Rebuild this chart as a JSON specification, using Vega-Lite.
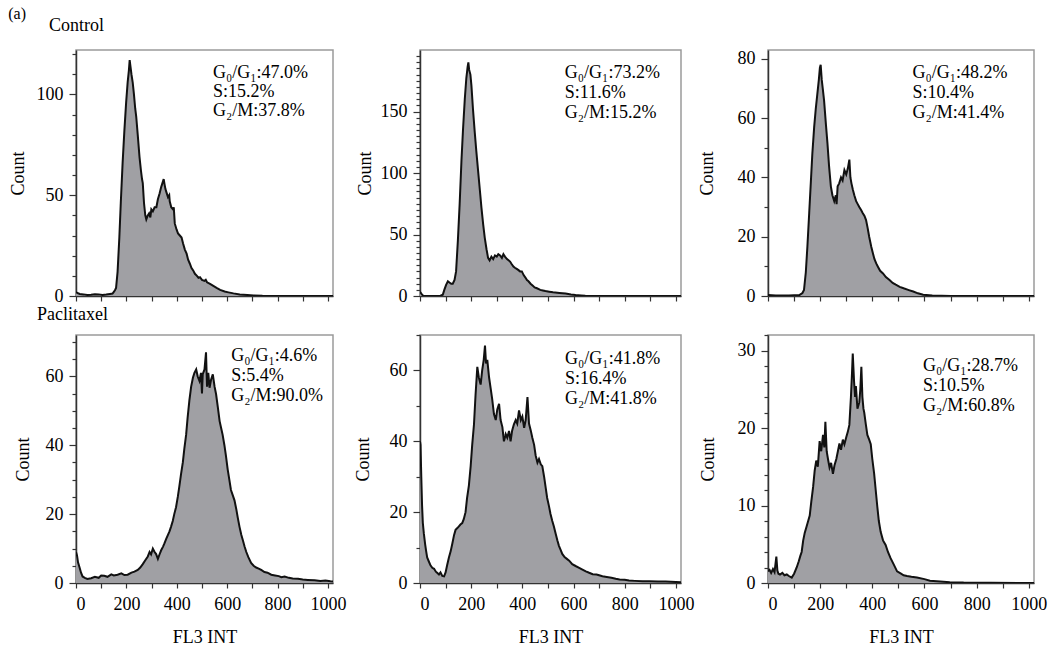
{
  "$schema": "https://vega.github.io/schema/vega-lite/v6.json",
  "padding": {"left": 8, "top": 6, "right": 5, "bottom": 5},
  "title": {"text": "(a)", "anchor": "start", "fontSize": 16, "offset": -6, "dx": 0},
  "columns": 3,
  "spacing": {"row": 39, "column": 87},
  "bounds": "flush",
  "align": "each",
  "config": {
    "font": "Liberation Serif",
    "view": {"stroke": "#9a9a9a", "strokeWidth": 1.5},
    "axis": {"labelFont": "Liberation Serif", "titleFont": "Liberation Serif", "labelFontSize": 18, "titleFontSize": 18, "titleFontWeight": "normal", "labelColor": "#000", "titleColor": "#000", "domainColor": "#333", "domainWidth": 1.5, "tickColor": "#333", "tickWidth": 1.2, "grid": false, "labelOverlap": false, "format": "d"},
    "axisX": {"tickSize": 5, "labelPadding": 7, "titlePadding": 15},
    "axisY": {"labelPadding": 6},
    "title": {"font": "Liberation Serif", "fontSize": 18, "fontWeight": "normal", "anchor": "start", "color": "#000"},
    "text": {"font": "Liberation Serif"},
    "area": {"opacity": 1, "fillOpacity": 1}
  },
  "datasets": {
    "p1": [{"x":0,"y":2},{"x":5,"y":1.5},{"x":15,"y":1},{"x":30,"y":0.8},{"x":45,"y":0.5},{"x":60,"y":0.6},{"x":75,"y":0.9},{"x":90,"y":0.8},{"x":105,"y":0.5},{"x":120,"y":0.7},{"x":135,"y":1},{"x":145,"y":1.2},{"x":150,"y":2},{"x":155,"y":3},{"x":159,"y":4},{"x":165,"y":12},{"x":172,"y":29},{"x":178,"y":47},{"x":185,"y":66},{"x":192,"y":82},{"x":199,"y":96},{"x":205,"y":106},{"x":210,"y":112},{"x":213,"y":117},{"x":216,"y":114},{"x":220,"y":110},{"x":225,"y":106},{"x":230,"y":100},{"x":235,"y":93},{"x":239,"y":89},{"x":245,"y":80},{"x":252,"y":69},{"x":258,"y":62},{"x":262,"y":58},{"x":265,"y":56},{"x":270,"y":46},{"x":275,"y":40},{"x":279,"y":38},{"x":285,"y":40},{"x":290,"y":41},{"x":295,"y":39},{"x":299,"y":43},{"x":305,"y":42},{"x":312,"y":44},{"x":319,"y":44},{"x":325,"y":48},{"x":332,"y":51},{"x":338,"y":54},{"x":343,"y":56},{"x":348,"y":58},{"x":352,"y":55},{"x":355,"y":53},{"x":360,"y":51},{"x":365,"y":49},{"x":370,"y":50},{"x":372,"y":47},{"x":378,"y":44},{"x":385,"y":43},{"x":388,"y":44},{"x":392,"y":36},{"x":399,"y":33},{"x":405,"y":31},{"x":412,"y":30},{"x":419,"y":29},{"x":425,"y":26},{"x":432,"y":23},{"x":439,"y":21},{"x":445,"y":18},{"x":452,"y":16},{"x":458,"y":14},{"x":465,"y":12.7},{"x":472,"y":11},{"x":480,"y":10},{"x":486,"y":9},{"x":492,"y":9.3},{"x":500,"y":8},{"x":510,"y":7.5},{"x":515,"y":8},{"x":520,"y":6.8},{"x":532,"y":6},{"x":545,"y":5},{"x":558,"y":4},{"x":572,"y":3},{"x":590,"y":2.2},{"x":605,"y":1.8},{"x":625,"y":1.3},{"x":650,"y":0.8},{"x":680,"y":0.5},{"x":705,"y":0.3},{"x":740,"y":0.1},{"x":800,"y":0},{"x":1024,"y":0}],
    "p2": [{"x":0,"y":3.5},{"x":5,"y":2},{"x":12,"y":0.3},{"x":40,"y":0},{"x":80,"y":0.2},{"x":89,"y":1},{"x":95,"y":5},{"x":102,"y":9},{"x":109,"y":12},{"x":115,"y":11},{"x":122,"y":10},{"x":128,"y":10},{"x":135,"y":13},{"x":141,"y":20},{"x":148,"y":45},{"x":155,"y":75},{"x":162,"y":110},{"x":168,"y":135},{"x":175,"y":160},{"x":181,"y":177},{"x":186,"y":186},{"x":189,"y":190},{"x":192,"y":184},{"x":197,"y":180},{"x":201,"y":171},{"x":207,"y":152},{"x":214,"y":133},{"x":220,"y":118},{"x":227,"y":102},{"x":234,"y":86},{"x":240,"y":72},{"x":247,"y":58},{"x":253,"y":47.5},{"x":260,"y":38},{"x":266,"y":31},{"x":272,"y":29},{"x":279,"y":32},{"x":286,"y":30},{"x":293,"y":33},{"x":300,"y":32},{"x":306,"y":34},{"x":313,"y":33},{"x":320,"y":31},{"x":326,"y":34},{"x":332,"y":32},{"x":340,"y":30},{"x":346,"y":29},{"x":352,"y":28},{"x":358,"y":26},{"x":365,"y":24},{"x":371,"y":23},{"x":378,"y":22},{"x":385,"y":21},{"x":391,"y":20},{"x":398,"y":20},{"x":405,"y":17},{"x":412,"y":15},{"x":418,"y":13},{"x":424,"y":12},{"x":432,"y":10},{"x":440,"y":8.5},{"x":448,"y":7},{"x":457,"y":6.3},{"x":470,"y":5},{"x":480,"y":4.5},{"x":490,"y":4},{"x":505,"y":3.5},{"x":520,"y":3},{"x":545,"y":2.5},{"x":569,"y":2},{"x":590,"y":1.3},{"x":608,"y":0.8},{"x":630,"y":0.5},{"x":646,"y":0.3},{"x":680,"y":0.1},{"x":720,"y":0},{"x":1024,"y":0}],
    "p3": [{"x":0,"y":0.3},{"x":30,"y":0.2},{"x":80,"y":0.2},{"x":120,"y":0.3},{"x":132,"y":1},{"x":138,"y":2},{"x":145,"y":8},{"x":151,"y":16.6},{"x":158,"y":28},{"x":164,"y":38},{"x":170,"y":48},{"x":177,"y":57},{"x":183,"y":63},{"x":189,"y":68},{"x":195,"y":73},{"x":199,"y":77},{"x":202,"y":78},{"x":206,"y":73},{"x":210,"y":70},{"x":215,"y":66},{"x":222,"y":58},{"x":228,"y":51.5},{"x":234,"y":44},{"x":241,"y":37},{"x":247,"y":34},{"x":254,"y":32},{"x":260,"y":34},{"x":263,"y":31},{"x":267,"y":37},{"x":273,"y":38},{"x":280,"y":40},{"x":286,"y":39},{"x":293,"y":42.5},{"x":300,"y":41},{"x":306,"y":43},{"x":312,"y":46},{"x":316,"y":40},{"x":320,"y":38},{"x":325,"y":36},{"x":331,"y":34},{"x":338,"y":32},{"x":344,"y":31},{"x":350,"y":30},{"x":357,"y":29},{"x":363,"y":28},{"x":370,"y":27},{"x":376,"y":25.6},{"x":382,"y":23},{"x":388,"y":20},{"x":396,"y":16.6},{"x":402,"y":14.5},{"x":408,"y":12.5},{"x":415,"y":11},{"x":422,"y":9.8},{"x":430,"y":8.5},{"x":441,"y":7.6},{"x":452,"y":6.4},{"x":466,"y":5.4},{"x":478,"y":4.4},{"x":490,"y":3.8},{"x":505,"y":3.1},{"x":520,"y":2.6},{"x":540,"y":2},{"x":557,"y":1.5},{"x":575,"y":0.9},{"x":595,"y":0.4},{"x":630,"y":0.2},{"x":700,"y":0},{"x":1024,"y":0}],
    "p4": [{"x":0,"y":9},{"x":4,"y":8},{"x":8,"y":6},{"x":13,"y":4.8},{"x":20,"y":3},{"x":26,"y":1.9},{"x":35,"y":1.5},{"x":45,"y":1.2},{"x":60,"y":1.4},{"x":75,"y":1.8},{"x":90,"y":1.5},{"x":100,"y":2.2},{"x":112,"y":2.1},{"x":125,"y":1.8},{"x":140,"y":2.5},{"x":150,"y":2.2},{"x":165,"y":2.4},{"x":180,"y":2.8},{"x":192,"y":2.3},{"x":205,"y":2.4},{"x":220,"y":3},{"x":232,"y":3.3},{"x":245,"y":3.8},{"x":255,"y":4.5},{"x":265,"y":5.5},{"x":275,"y":6.6},{"x":285,"y":7.7},{"x":292,"y":9},{"x":298,"y":8.3},{"x":305,"y":10},{"x":312,"y":9},{"x":318,"y":8.4},{"x":325,"y":7},{"x":331,"y":8.2},{"x":338,"y":9.5},{"x":345,"y":10.5},{"x":351,"y":11.5},{"x":358,"y":12.8},{"x":365,"y":14},{"x":371,"y":15},{"x":377,"y":16.3},{"x":384,"y":18},{"x":390,"y":20},{"x":397,"y":22},{"x":404,"y":25},{"x":410,"y":28},{"x":417,"y":31.7},{"x":424,"y":35},{"x":430,"y":39},{"x":437,"y":43},{"x":443,"y":48},{"x":450,"y":53},{"x":457,"y":57},{"x":464,"y":59.6},{"x":470,"y":61},{"x":477,"y":62},{"x":483,"y":60},{"x":490,"y":58.7},{"x":496,"y":61},{"x":500,"y":55},{"x":503,"y":60.6},{"x":510,"y":62},{"x":516,"y":67},{"x":520,"y":57},{"x":525,"y":61},{"x":530,"y":56.7},{"x":536,"y":59},{"x":543,"y":60.6},{"x":550,"y":57},{"x":556,"y":54.8},{"x":563,"y":51},{"x":570,"y":47},{"x":576,"y":45},{"x":582,"y":43},{"x":589,"y":40},{"x":595,"y":37},{"x":602,"y":33},{"x":609,"y":29.8},{"x":615,"y":27},{"x":622,"y":25.5},{"x":629,"y":24},{"x":636,"y":21.5},{"x":642,"y":19},{"x":649,"y":16.3},{"x":656,"y":14},{"x":662,"y":12.5},{"x":669,"y":10.6},{"x":676,"y":9},{"x":684,"y":7.5},{"x":695,"y":5.8},{"x":705,"y":5},{"x":715,"y":4.5},{"x":725,"y":4.2},{"x":735,"y":3.8},{"x":748,"y":3.2},{"x":760,"y":3},{"x":775,"y":2.4},{"x":790,"y":2.2},{"x":805,"y":2},{"x":815,"y":1.7},{"x":828,"y":1.9},{"x":845,"y":1.5},{"x":860,"y":1.3},{"x":881,"y":1.2},{"x":900,"y":1},{"x":920,"y":0.9},{"x":947,"y":0.8},{"x":970,"y":0.6},{"x":990,"y":0.7},{"x":1010,"y":0.5},{"x":1024,"y":0.4}],
    "p5": [{"x":0,"y":40},{"x":2,"y":39},{"x":5,"y":30},{"x":8,"y":22},{"x":11,"y":17},{"x":15,"y":14},{"x":20,"y":11},{"x":24,"y":9},{"x":28,"y":7.2},{"x":35,"y":6},{"x":41,"y":5},{"x":48,"y":4.3},{"x":55,"y":4},{"x":62,"y":3.2},{"x":68,"y":2.8},{"x":74,"y":2.4},{"x":80,"y":3},{"x":87,"y":2},{"x":94,"y":1.9},{"x":100,"y":3},{"x":106,"y":5},{"x":113,"y":7.2},{"x":120,"y":9},{"x":126,"y":11},{"x":133,"y":13.5},{"x":139,"y":15},{"x":146,"y":15.5},{"x":152,"y":16},{"x":158,"y":16.5},{"x":165,"y":16.9},{"x":171,"y":18},{"x":178,"y":20},{"x":184,"y":24},{"x":191,"y":27.5},{"x":198,"y":33},{"x":204,"y":39},{"x":211,"y":44.8},{"x":217,"y":53},{"x":224,"y":61},{"x":230,"y":58},{"x":237,"y":56},{"x":243,"y":60},{"x":249,"y":63},{"x":254,"y":67},{"x":258,"y":62},{"x":263,"y":63},{"x":270,"y":58},{"x":276,"y":55},{"x":282,"y":52},{"x":289,"y":47.7},{"x":296,"y":46},{"x":302,"y":49},{"x":309,"y":50.6},{"x":315,"y":46},{"x":322,"y":44},{"x":328,"y":40},{"x":335,"y":42},{"x":341,"y":41},{"x":348,"y":42.9},{"x":354,"y":40},{"x":360,"y":43},{"x":367,"y":44.8},{"x":374,"y":46},{"x":380,"y":45},{"x":387,"y":48.7},{"x":394,"y":46},{"x":400,"y":47},{"x":407,"y":43.8},{"x":413,"y":46},{"x":420,"y":52.5},{"x":426,"y":45},{"x":433,"y":43},{"x":439,"y":41},{"x":446,"y":39},{"x":452,"y":36},{"x":459,"y":34},{"x":465,"y":35},{"x":472,"y":33.5},{"x":478,"y":33},{"x":485,"y":30},{"x":491,"y":27},{"x":497,"y":24},{"x":504,"y":21.7},{"x":510,"y":19.5},{"x":517,"y":17.5},{"x":523,"y":16},{"x":530,"y":14},{"x":537,"y":12},{"x":543,"y":10.5},{"x":550,"y":9.3},{"x":556,"y":8.2},{"x":565,"y":7.3},{"x":574,"y":6.8},{"x":583,"y":6.3},{"x":595,"y":5.3},{"x":608,"y":4.8},{"x":622,"y":4.3},{"x":635,"y":3.8},{"x":648,"y":3.3},{"x":661,"y":2.9},{"x":675,"y":2.5},{"x":690,"y":2.4},{"x":700,"y":2.2},{"x":713,"y":1.9},{"x":730,"y":1.7},{"x":748,"y":1.5},{"x":765,"y":1.2},{"x":780,"y":1},{"x":800,"y":0.9},{"x":817,"y":0.7},{"x":840,"y":0.6},{"x":870,"y":0.5},{"x":896,"y":0.5},{"x":930,"y":0.4},{"x":960,"y":0.4},{"x":1000,"y":0.3},{"x":1024,"y":0.2}],
    "p6": [{"x":0,"y":1.5},{"x":6,"y":1.7},{"x":12,"y":1.3},{"x":19,"y":1.8},{"x":25,"y":1.4},{"x":32,"y":3.4},{"x":36,"y":1.6},{"x":40,"y":1.2},{"x":46,"y":1.1},{"x":55,"y":1.3},{"x":63,"y":1},{"x":72,"y":1.1},{"x":80,"y":0.9},{"x":91,"y":0.7},{"x":100,"y":1.2},{"x":110,"y":2},{"x":118,"y":2.8},{"x":124,"y":3.5},{"x":129,"y":4},{"x":135,"y":5.5},{"x":141,"y":6.5},{"x":148,"y":7.3},{"x":154,"y":8},{"x":160,"y":8.7},{"x":166,"y":10.5},{"x":173,"y":12.4},{"x":179,"y":14.5},{"x":185,"y":15.8},{"x":191,"y":15},{"x":198,"y":18.3},{"x":204,"y":17},{"x":211,"y":19.1},{"x":216,"y":17.5},{"x":220,"y":20.8},{"x":225,"y":17},{"x":230,"y":16},{"x":236,"y":14.9},{"x":242,"y":15.5},{"x":249,"y":14.1},{"x":255,"y":15.2},{"x":262,"y":16},{"x":268,"y":17},{"x":274,"y":18},{"x":280,"y":17.2},{"x":287,"y":18.5},{"x":293,"y":17.9},{"x":300,"y":18.8},{"x":306,"y":19.5},{"x":312,"y":20.4},{"x":318,"y":24},{"x":322,"y":27},{"x":325,"y":29.6},{"x":330,"y":26},{"x":334,"y":24},{"x":337,"y":25.4},{"x":343,"y":22.5},{"x":350,"y":23.3},{"x":354,"y":25},{"x":358,"y":27.9},{"x":362,"y":24},{"x":366,"y":22.5},{"x":369,"y":22},{"x":375,"y":20.5},{"x":381,"y":19.1},{"x":388,"y":18.5},{"x":394,"y":17.9},{"x":400,"y":16},{"x":407,"y":14.1},{"x":413,"y":12},{"x":419,"y":9.9},{"x":425,"y":8},{"x":432,"y":6.6},{"x":441,"y":5.5},{"x":451,"y":4.9},{"x":460,"y":4},{"x":470,"y":3.2},{"x":482,"y":2.4},{"x":495,"y":1.5},{"x":510,"y":1.2},{"x":520,"y":1},{"x":533,"y":0.9},{"x":550,"y":0.8},{"x":571,"y":0.7},{"x":600,"y":0.5},{"x":621,"y":0.3},{"x":660,"y":0.2},{"x":697,"y":0.1},{"x":750,"y":0.05},{"x":1024,"y":0}],
    "a1": [{"x":544,"y":115,"t":"G₀/G₁:47.0%\nS:15.2%\nG₂/M:37.8%"}],
    "a2": [{"x":566,"y":188.6,"t":"G₀/G₁:73.2%\nS:11.6%\nG₂/M:15.2%"}],
    "a3": [{"x":554,"y":78.3,"t":"G₀/G₁:48.2%\nS:10.4%\nG₂/M:41.4%"}],
    "a4": [{"x":616,"y":68.5,"t":"G₀/G₁:4.6%\nS:5.4%\nG₂/M:90.0%"}],
    "a5": [{"x":567,"y":65.9,"t":"G₀/G₁:41.8%\nS:16.4%\nG₂/M:41.8%"}],
    "a6": [{"x":594,"y":29.1,"t":"G₀/G₁:28.7%\nS:10.5%\nG₂/M:60.8%"}]
  },
  "concat": [
    {
      "width": 257, "height": 246,
      "title": {"text": "Control", "dx": -27, "offset": 10, "frame": "group"},
      "encoding": {
        "x": {"field": "x", "type": "quantitative", "scale": {"domain": [0, 1020], "nice": false, "zero": false}, "axis": {"values": [0,100,200,300,400,500,600,700,800,900,1000], "labels": false, "title": null}},
        "y": {"field": "y", "type": "quantitative", "scale": {"domain": [0, 122], "nice": false}, "axis": {"title": "Count", "titlePadding": 9, "values": [0,10,20,30,40,50,60,70,80,90,100,110,120], "labelExpr": "datum.value % 50 === 0 ? datum.label : ''", "tickSize": {"condition": {"test": "datum.value % 50 === 0", "value": 7}, "value": 4}}}
      },
      "layer": [
        {"data": {"name": "p1"}, "mark": {"type": "area", "color": "#a0a0a4", "opacity": 1, "clip": true, "line": {"color": "#111", "strokeWidth": 2}}},
        {"data": {"name": "a1"}, "mark": {"type": "text", "align": "left", "baseline": "top", "fontSize": 18, "lineHeight": 19, "lineBreak": "\n"}, "encoding": {"text": {"field": "t"}}}
      ]
    },
    {
      "width": 261, "height": 246,
      "encoding": {
        "x": {"field": "x", "type": "quantitative", "scale": {"domain": [0, 1020], "nice": false, "zero": false}, "axis": {"values": [0,100,200,300,400,500,600,700,800,900,1000], "labels": false, "title": null}},
        "y": {"field": "y", "type": "quantitative", "scale": {"domain": [0, 200], "nice": false}, "axis": {"title": "Count", "titlePadding": 6, "values": [0,5,10,15,20,25,30,35,40,45,50,55,60,65,70,75,80,85,90,95,100,105,110,115,120,125,130,135,140,145,150,155,160,165,170,175,180,185,190,195], "labelExpr": "datum.value % 50 === 0 ? datum.label : ''", "tickSize": {"condition": {"test": "datum.value % 50 === 0", "value": 7}, "value": 4}}}
      },
      "layer": [
        {"data": {"name": "p2"}, "mark": {"type": "area", "color": "#a0a0a4", "opacity": 1, "clip": true, "line": {"color": "#111", "strokeWidth": 2}}},
        {"data": {"name": "a2"}, "mark": {"type": "text", "align": "left", "baseline": "top", "fontSize": 18, "lineHeight": 20, "lineBreak": "\n"}, "encoding": {"text": {"field": "t"}}}
      ]
    },
    {
      "width": 266, "height": 246,
      "encoding": {
        "x": {"field": "x", "type": "quantitative", "scale": {"domain": [0, 1020], "nice": false, "zero": false}, "axis": {"values": [0,100,200,300,400,500,600,700,800,900,1000], "labels": false, "title": null}},
        "y": {"field": "y", "type": "quantitative", "scale": {"domain": [0, 83], "nice": false}, "axis": {"title": "Count", "titlePadding": 21, "values": [0,10,20,30,40,50,60,70,80], "labelExpr": "datum.value % 20 === 0 ? datum.label : ''", "tickSize": {"condition": {"test": "datum.value % 20 === 0", "value": 7}, "value": 4}}}
      },
      "layer": [
        {"data": {"name": "p3"}, "mark": {"type": "area", "color": "#a0a0a4", "opacity": 1, "clip": true, "line": {"color": "#111", "strokeWidth": 2}}},
        {"data": {"name": "a3"}, "mark": {"type": "text", "align": "left", "baseline": "top", "fontSize": 18, "lineHeight": 20, "lineBreak": "\n"}, "encoding": {"text": {"field": "t"}}}
      ]
    },
    {
      "width": 257, "height": 248,
      "title": {"text": "Paclitaxel", "dx": -39, "offset": 9, "frame": "group"},
      "encoding": {
        "x": {"field": "x", "type": "quantitative", "scale": {"domain": [0, 1020], "nice": false, "zero": false}, "axis": {"values": [0,100,200,300,400,500,600,700,800,900,1000], "labelExpr": "datum.value % 200 === 0 ? datum.label : ''", "title": "FL3 INT"}},
        "y": {"field": "y", "type": "quantitative", "scale": {"domain": [0, 72], "nice": false}, "axis": {"title": "Count", "titlePadding": 13, "values": [0,5,10,15,20,25,30,35,40,45,50,55,60,65,70], "labelExpr": "datum.value % 20 === 0 ? datum.label : ''", "tickSize": {"condition": {"test": "datum.value % 20 === 0", "value": 7}, "value": 4}}}
      },
      "layer": [
        {"data": {"name": "p4"}, "mark": {"type": "area", "color": "#a0a0a4", "opacity": 1, "clip": true, "line": {"color": "#111", "strokeWidth": 2}}},
        {"data": {"name": "a4"}, "mark": {"type": "text", "align": "left", "baseline": "top", "fontSize": 18, "lineHeight": 20, "lineBreak": "\n"}, "encoding": {"text": {"field": "t"}}}
      ]
    },
    {
      "width": 261, "height": 248,
      "encoding": {
        "x": {"field": "x", "type": "quantitative", "scale": {"domain": [0, 1020], "nice": false, "zero": false}, "axis": {"values": [0,100,200,300,400,500,600,700,800,900,1000], "labelExpr": "datum.value % 200 === 0 ? datum.label : ''", "title": "FL3 INT"}},
        "y": {"field": "y", "type": "quantitative", "scale": {"domain": [0, 70], "nice": false}, "axis": {"title": "Count", "titlePadding": 17, "values": [0,10,20,30,40,50,60,70], "labelExpr": "datum.value % 20 === 0 ? datum.label : ''", "tickSize": {"condition": {"test": "datum.value % 20 === 0", "value": 7}, "value": 4}}}
      },
      "layer": [
        {"data": {"name": "p5"}, "mark": {"type": "area", "color": "#a0a0a4", "opacity": 1, "clip": true, "line": {"color": "#111", "strokeWidth": 2}}},
        {"data": {"name": "a5"}, "mark": {"type": "text", "align": "left", "baseline": "top", "fontSize": 18, "lineHeight": 20, "lineBreak": "\n"}, "encoding": {"text": {"field": "t"}}}
      ]
    },
    {
      "width": 266, "height": 248,
      "encoding": {
        "x": {"field": "x", "type": "quantitative", "scale": {"domain": [0, 1020], "nice": false, "zero": false}, "axis": {"values": [0,100,200,300,400,500,600,700,800,900,1000], "labelExpr": "datum.value % 200 === 0 ? datum.label : ''", "title": "FL3 INT"}},
        "y": {"field": "y", "type": "quantitative", "scale": {"domain": [0, 32], "nice": false}, "axis": {"title": "Count", "titlePadding": 20, "values": [0,2,4,6,8,10,12,14,16,18,20,22,24,26,28,30,32], "labelExpr": "datum.value % 10 === 0 ? datum.label : ''", "tickSize": {"condition": {"test": "datum.value % 10 === 0", "value": 7}, "value": 4}}}
      },
      "layer": [
        {"data": {"name": "p6"}, "mark": {"type": "area", "color": "#a0a0a4", "opacity": 1, "clip": true, "line": {"color": "#111", "strokeWidth": 2}}},
        {"data": {"name": "a6"}, "mark": {"type": "text", "align": "left", "baseline": "top", "fontSize": 18, "lineHeight": 20, "lineBreak": "\n"}, "encoding": {"text": {"field": "t"}}}
      ]
    }
  ]
}
